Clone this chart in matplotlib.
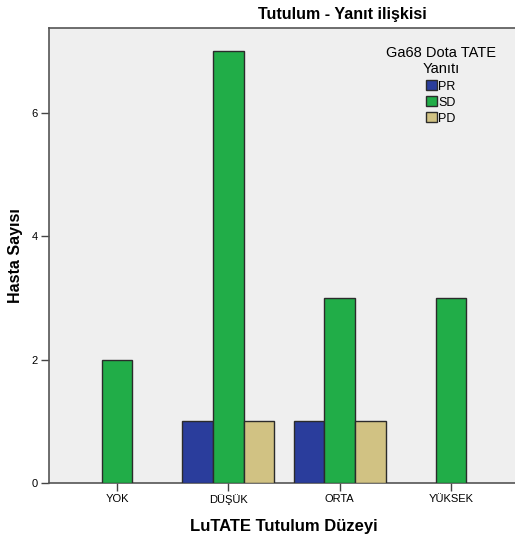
import numpy as np
import matplotlib
matplotlib.use('Agg')
import matplotlib.pyplot as plt

plt.rcParams['font.family'] = ['Liberation Sans', 'DejaVu Sans']

categories = ['YOK', 'DÜŞÜK', 'ORTA', 'YÜKSEK']
series_names = ['PR', 'SD', 'PD']
pr_counts = [0, 1, 1, 0]
sd_counts = [2, 7, 3, 3]
pd_counts = [0, 1, 1, 0]
y_ticks = [0, 2, 4, 6]

colors = ['#2a3d9c', '#21ad48', '#d1c283']
BAR_W = 0.275

fig = plt.figure(figsize=[5.15, 5.35], dpi=100)
fig.patch.set_facecolor('white')
ax = fig.add_axes([49 / 515, 1 - 483 / 535, 470 / 515, 455 / 535])
ax.set_facecolor('#efefef')

x = np.arange(len(categories))
for k, (name, vals) in enumerate(zip(series_names, [pr_counts, sd_counts, pd_counts])):
    vals = np.array(vals)
    keep = vals > 0
    ax.bar(x[keep] + (k - 1) * BAR_W, vals[keep], width=BAR_W, color=colors[k],
           edgecolor='#2b2b2b', linewidth=1.0, label=name, zorder=3)

ax.set_xlim(-0.61, 3.61)
ax.set_ylim(0, 7.38)
ax.set_xticks(x)
ax.set_xticklabels(categories, fontsize=8)
ax.set_yticks(y_ticks)
ax.set_yticklabels([str(v) for v in y_ticks], fontsize=8)
ax.tick_params(axis='both', direction='out', length=6, width=1.0, color='#444444', pad=2)

for side in ['left', 'bottom', 'top']:
    ax.spines[side].set_color('#555555')
    ax.spines[side].set_linewidth(1.2)
ax.spines['right'].set_visible(False)

ax.set_ylabel('Hasta Sayısı', fontsize=11.5, fontweight='bold', labelpad=6)
ax.set_xlabel('LuTATE Tutulum Düzeyi', fontsize=12, fontweight='bold', labelpad=10)
fig.text(342 / 515, 1 - 15 / 535, 'Tutulum - Yanıt ilişkisi', ha='center', va='center',
         fontsize=11.5, fontweight='bold')

leg = ax.legend(title='Ga68 Dota TATE\nYanıtı', loc='upper center',
                bbox_to_anchor=(441 / 515, 1 - 40 / 535), bbox_transform=fig.transFigure,
                frameon=False, fontsize=9, title_fontsize=10.5, handlelength=0.85,
                handleheight=0.85, handletextpad=0.1, labelspacing=0.3, borderpad=0)
leg.get_title().set_multialignment('center')

fig.savefig('out.png', dpi=100, facecolor='white')
